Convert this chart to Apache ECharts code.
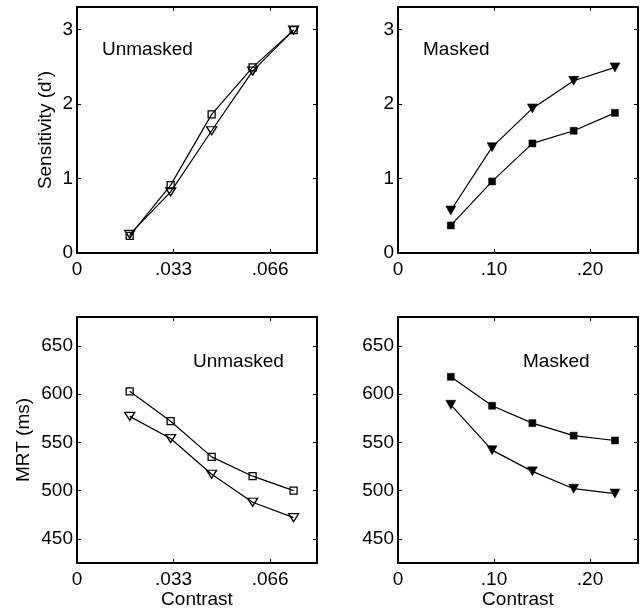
<!DOCTYPE html>
<html>
<head>
<meta charset="utf-8">
<script src="https://cdn.jsdelivr.net/npm/echarts@6/dist/echarts.min.js"></script>
<style>html,body{margin:0;padding:0;background:#fff}#c{width:641px;height:611px}</style>
</head>
<body>
<div id="c"></div>
<script>
// ---- data ----
const unmaskedContrast = [0.018, 0.032, 0.046, 0.060, 0.074];
const maskedContrast = [0.055, 0.098, 0.140, 0.183, 0.226];
const sensUnmaskedSquare = [0.23, 0.91, 1.86, 2.49, 2.99];
const sensUnmaskedTriangle = [0.25, 0.82, 1.64, 2.44, 2.99];
const sensMaskedSquare = [0.37, 0.96, 1.47, 1.64, 1.88];
const sensMaskedTriangle = [0.57, 1.42, 1.94, 2.31, 2.49];
const mrtUnmaskedSquare = [603, 572, 535, 515, 500];
const mrtUnmaskedTriangle = [577, 554, 517, 488, 472];
const mrtMaskedSquare = [618, 588, 570, 557, 552];
const mrtMaskedTriangle = [589, 542, 520, 502, 497];
const unmaskedTicks = [0, 0.033, 0.066];
const unmaskedTickLabels = ['0', '.033', '.066'];
const maskedTicks = [0, 0.1, 0.2];
const maskedTickLabels = ['0', '.10', '.20'];
const sensTicks = [0, 1, 2, 3];
const mrtTicks = [450, 500, 550, 600, 650];
const panelTitles = ['Unmasked', 'Masked', 'Unmasked', 'Masked'];

const FONT = 'Liberation Sans';
const FS = 19;

const grids = [
  {left: 77, top: 7, width: 240, height: 246},
  {left: 398, top: 7, width: 240, height: 246},
  {left: 77, top: 317, width: 240, height: 246},
  {left: 398, top: 317, width: 240, height: 246}
];

const xDefs = [
  {min: 0, max: 0.082, ticks: unmaskedTicks, labels: unmaskedTickLabels},
  {min: 0, max: 0.25, ticks: maskedTicks, labels: maskedTickLabels},
  {min: 0, max: 0.082, ticks: unmaskedTicks, labels: unmaskedTickLabels},
  {min: 0, max: 0.25, ticks: maskedTicks, labels: maskedTickLabels}
];
const yDefs = [
  {min: 0, max: 3.3, ticks: sensTicks, name: 'Sensitivity (d\u2019)', gap: 22},
  {min: 0, max: 3.3, ticks: sensTicks, name: '', gap: 0},
  {min: 425, max: 680, ticks: mrtTicks, name: 'MRT (ms)', gap: 44},
  {min: 425, max: 680, ticks: mrtTicks, name: '', gap: 0}
];

function fmtFrom(ticks, labels) {
  return function (v) {
    for (let i = 0; i < ticks.length; i++) {
      if (Math.abs(v - ticks[i]) < 1e-9) return labels[i];
    }
    return '';
  };
}

const axisLineStyle = {show: true, onZero: false, lineStyle: {color: '#000', width: 2}};
const xAxes = [], yAxes = [];
xDefs.forEach((d, i) => {
  xAxes.push({
    type: 'value', gridIndex: i, position: 'bottom', min: d.min, max: d.max,
    axisLine: axisLineStyle,
    axisTick: {show: true, inside: true, length: 4, customValues: d.ticks, lineStyle: {color: '#000', width: 1}},
    axisLabel: {show: true, customValues: d.ticks, formatter: fmtFrom(d.ticks, d.labels), color: '#000', fontFamily: FONT, fontSize: FS, margin: 7},
    splitLine: {show: false},
    name: i >= 2 ? 'Contrast' : '', nameLocation: 'middle', nameGap: 26,
    nameTextStyle: {color: '#000', fontFamily: FONT, fontSize: FS}
  });
  xAxes.push({
    type: 'value', gridIndex: i, position: 'top', min: d.min, max: d.max,
    axisLine: axisLineStyle,
    axisTick: {show: true, inside: true, length: 4, customValues: d.ticks, lineStyle: {color: '#000', width: 1}},
    axisLabel: {show: false},
    splitLine: {show: false}
  });
});
yDefs.forEach((d, i) => {
  const lbls = d.ticks.map(String);
  yAxes.push({
    type: 'value', gridIndex: i, position: 'left', min: d.min, max: d.max,
    axisLine: axisLineStyle,
    axisTick: {show: true, inside: true, length: 4, customValues: d.ticks, lineStyle: {color: '#000', width: 1}},
    axisLabel: {show: true, customValues: d.ticks, formatter: fmtFrom(d.ticks, lbls), color: '#000', fontFamily: FONT, fontSize: FS, margin: 4},
    splitLine: {show: false},
    name: d.name, nameLocation: 'middle', nameGap: d.gap, nameRotate: 90,
    nameTextStyle: {color: '#000', fontFamily: FONT, fontSize: FS}
  });
  yAxes.push({
    type: 'value', gridIndex: i, position: 'right', min: d.min, max: d.max,
    axisLine: axisLineStyle,
    axisTick: {show: true, inside: true, length: 4, customValues: d.ticks, lineStyle: {color: '#000', width: 1}},
    axisLabel: {show: false},
    splitLine: {show: false}
  });
});

function zip(xs, ys) { return xs.map((x, i) => [x, ys[i]]); }

function mkSeries(panel, xs, ys, shape, filled) {
  const isTri = shape === 'tri';
  return {
    type: 'line', xAxisIndex: panel * 2, yAxisIndex: panel * 2,
    data: zip(xs, ys),
    symbol: isTri ? 'triangle' : 'rect',
    symbolRotate: isTri ? 180 : 0,
    symbolSize: isTri ? (filled ? [10, 9] : [10, 8]) : (filled ? 7 : 7),
    showAllSymbol: true,
    lineStyle: {color: '#000', width: 1.2},
    itemStyle: filled ? {color: '#000', borderColor: '#000', borderWidth: 0.5}
                      : {color: 'rgba(0,0,0,0)', borderColor: '#000', borderWidth: 1.3},
    emphasis: {disabled: true},
    silent: true
  };
}

const series = [
  mkSeries(0, unmaskedContrast, sensUnmaskedSquare, 'sq', false),
  mkSeries(0, unmaskedContrast, sensUnmaskedTriangle, 'tri', false),
  mkSeries(1, maskedContrast, sensMaskedSquare, 'sq', true),
  mkSeries(1, maskedContrast, sensMaskedTriangle, 'tri', true),
  mkSeries(2, unmaskedContrast, mrtUnmaskedSquare, 'sq', false),
  mkSeries(2, unmaskedContrast, mrtUnmaskedTriangle, 'tri', false),
  mkSeries(3, maskedContrast, mrtMaskedSquare, 'sq', true),
  mkSeries(3, maskedContrast, mrtMaskedTriangle, 'tri', true)
];

const titlePos = [[102, 50], [423, 50], [193, 362], [523, 362]];
const graphic = panelTitles.map((t, i) => ({
  type: 'text', left: titlePos[i][0], top: titlePos[i][1] - 10,
  style: {text: t, fill: '#000', font: FS + 'px "' + FONT + '"'}
}));

const chart = echarts.init(document.getElementById('c'), null, {renderer: 'canvas'});
chart.setOption({
  animation: false,
  backgroundColor: '#fff',
  textStyle: {fontFamily: FONT},
  grid: grids,
  xAxis: xAxes,
  yAxis: yAxes,
  series: series,
  graphic: graphic
});
</script>
</body>
</html>
